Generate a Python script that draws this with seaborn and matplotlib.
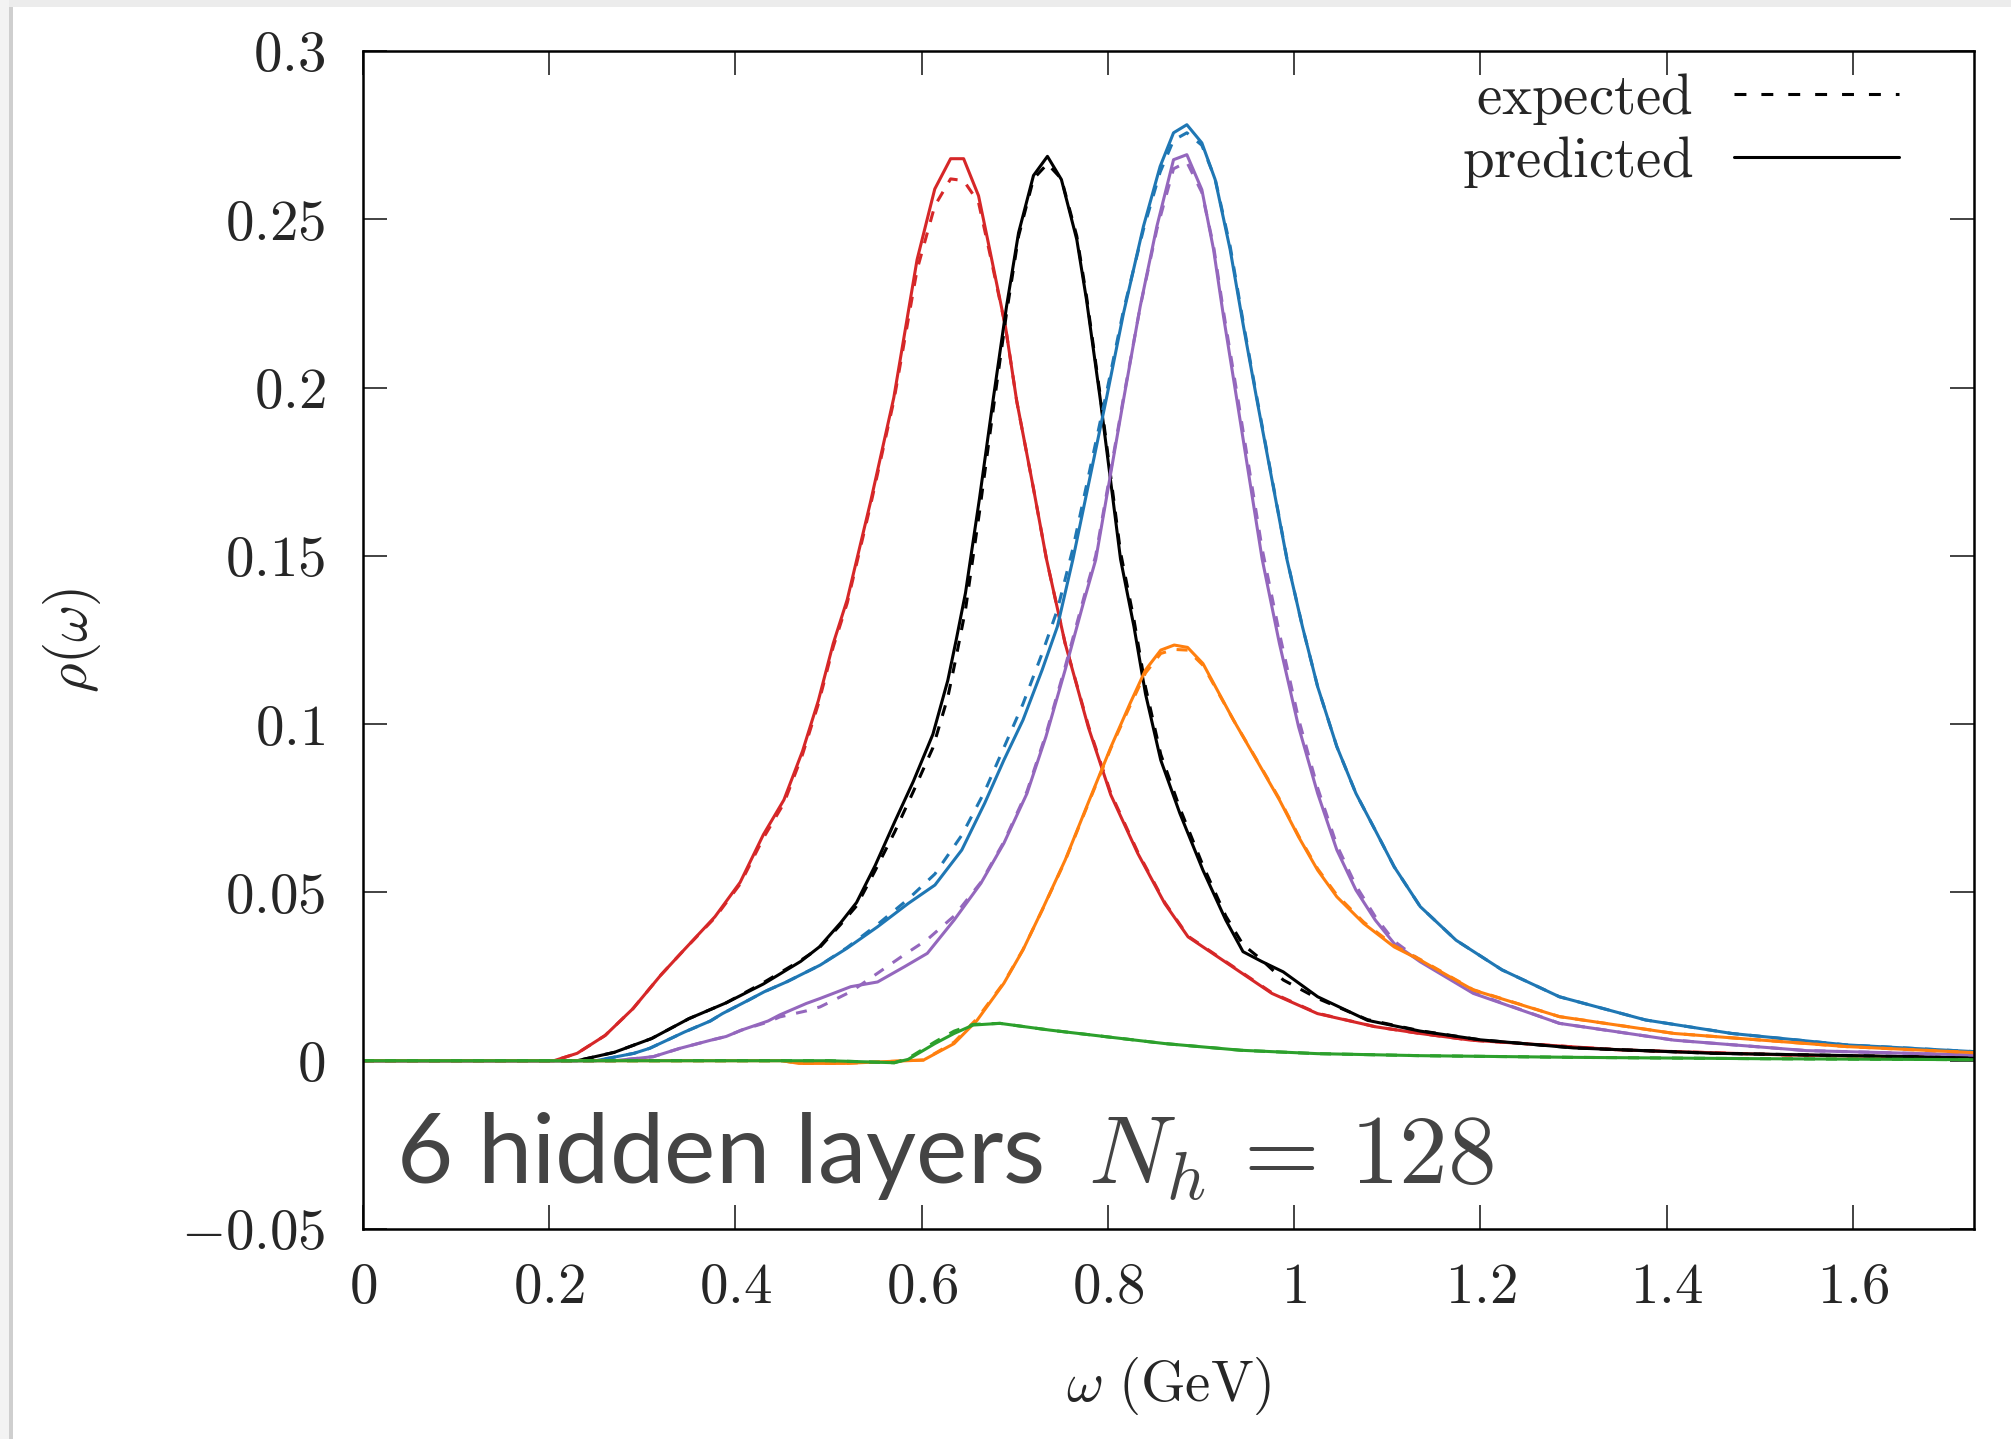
import matplotlib
matplotlib.use("Agg")
import matplotlib.pyplot as plt
from matplotlib.lines import Line2D
from matplotlib.patches import Rectangle
import pandas as pd
import seaborn as sns

# ---- spectral functions: omega grid (GeV), predicted and expected rho(omega) ----
omega_red = [0.0, 0.205, 0.23, 0.26, 0.29, 0.32, 0.345, 0.378, 0.405, 0.43, 0.452, 0.472, 0.489, 0.505,
             0.52, 0.545, 0.57, 0.595, 0.614, 0.631, 0.645, 0.661, 0.673, 0.69, 0.702, 0.72, 0.734, 0.754,
             0.779, 0.803, 0.832, 0.861, 0.886, 0.9225, 0.976, 1.025, 1.087, 1.135, 1.19, 1.35, 1.53, 1.73]
rho_red_pred = [0.0, 0.0, 0.0022, 0.0075, 0.0155, 0.0255, 0.033, 0.0428, 0.053, 0.0672, 0.0775, 0.092, 0.107,
                0.124, 0.137, 0.166, 0.197, 0.238, 0.259, 0.268, 0.268, 0.257, 0.241, 0.218, 0.196, 0.170, 0.149,
                0.124, 0.099, 0.079, 0.0616, 0.0467, 0.0368, 0.030, 0.020, 0.014, 0.0101, 0.0081, 0.0061, 0.0032,
                0.0017, 0.0008]
rho_red_exp = [0.0, 0.0, 0.0022, 0.0075, 0.0155, 0.0255, 0.033, 0.0425, 0.0525, 0.0662, 0.0765, 0.091, 0.106,
               0.123, 0.136, 0.165, 0.196, 0.235, 0.254, 0.262, 0.2615, 0.255, 0.240, 0.218, 0.196, 0.170, 0.149,
               0.124, 0.0995, 0.0795, 0.062, 0.047, 0.037, 0.0302, 0.0202, 0.0141, 0.0101, 0.0081, 0.0061, 0.0032,
               0.0017, 0.0008]

omega_black = [0.0, 0.23, 0.27, 0.31, 0.35, 0.39, 0.43, 0.47, 0.49, 0.513, 0.53, 0.55, 0.571, 0.591, 0.612,
               0.628, 0.637, 0.647, 0.662, 0.677, 0.691, 0.704, 0.72, 0.735, 0.75, 0.7665, 0.777, 0.792, 0.8135,
               0.8279, 0.8403, 0.8567, 0.8772, 0.902, 0.9265, 0.945, 0.965, 0.9882, 1.0252, 1.0787, 1.1353, 1.2,
               1.3, 1.45, 1.73]
rho_black_pred = [0.0, 0.0, 0.0025, 0.0066, 0.0125, 0.0172, 0.0228, 0.0295, 0.0338, 0.041, 0.047, 0.058, 0.071,
                  0.083, 0.097, 0.113, 0.125, 0.139, 0.167, 0.197, 0.224, 0.246, 0.263, 0.2687, 0.2618, 0.244,
                  0.226, 0.196, 0.149, 0.129, 0.109, 0.0893, 0.0735, 0.0566, 0.0418, 0.0324, 0.0295, 0.0264, 0.019,
                  0.012, 0.0088, 0.0062, 0.0038, 0.0022, 0.0009]
rho_black_exp = [0.0, 0.0, 0.0025, 0.0066, 0.0125, 0.0172, 0.0232, 0.0298, 0.0335, 0.0405, 0.046, 0.0565, 0.068,
                 0.080, 0.093, 0.108, 0.120, 0.134, 0.163, 0.194, 0.222, 0.245, 0.262, 0.2665, 0.262, 0.245, 0.227,
                 0.197, 0.151, 0.131, 0.111, 0.091, 0.075, 0.058, 0.043, 0.0345, 0.030, 0.024, 0.0185, 0.0122,
                 0.0089, 0.0062, 0.0038, 0.0022, 0.0009]

omega_blue = [0.0, 0.25, 0.291, 0.308, 0.332, 0.345, 0.373, 0.386, 0.414, 0.431, 0.4555, 0.4909, 0.5197, 0.5526,
              0.5854, 0.6142, 0.643, 0.6676, 0.6882, 0.7087, 0.7293, 0.7457, 0.7622, 0.7988, 0.8167, 0.8381, 0.856,
              0.8704, 0.8847, 0.9008, 0.9151, 0.9312, 0.9455, 0.9599, 0.9923, 1.0088, 1.0252, 1.0458, 1.0663,
              1.087, 1.1074, 1.1353, 1.1738, 1.2231, 1.2848, 1.3774, 1.4698, 1.593, 1.73]
rho_blue_pred = [0.0, 0.0, 0.0022, 0.0037, 0.0068, 0.0085, 0.0118, 0.014, 0.018, 0.0205, 0.0235, 0.0284, 0.0334,
                 0.0398, 0.0467, 0.0522, 0.0626, 0.0765, 0.0893, 0.1012, 0.1161, 0.129, 0.1488, 0.1974, 0.2221,
                 0.2479, 0.2657, 0.2757, 0.2781, 0.2727, 0.2618, 0.241, 0.2182, 0.1964, 0.1488, 0.129, 0.1111,
                 0.0933, 0.0794, 0.0685, 0.0576, 0.0458, 0.0358, 0.027, 0.019, 0.0121, 0.0081, 0.0047, 0.0027]
rho_blue_exp = [0.0, 0.0, 0.0022, 0.0037, 0.0068, 0.0085, 0.0118, 0.014, 0.018, 0.0205, 0.0235, 0.0284, 0.0336,
                0.0405, 0.048, 0.0555, 0.067, 0.080, 0.093, 0.106, 0.121, 0.134, 0.152, 0.199, 0.223, 0.247, 0.264,
                0.2735, 0.2757, 0.272, 0.262, 0.242, 0.219, 0.197, 0.149, 0.129, 0.1111, 0.0933, 0.0794, 0.0685,
                0.0576, 0.0458, 0.0358, 0.027, 0.019, 0.0121, 0.0081, 0.0047, 0.0027]

omega_purple = [0.0, 0.27, 0.3117, 0.3406, 0.3735, 0.39, 0.4065, 0.435, 0.4475, 0.476, 0.4909, 0.5238, 0.5526,
                0.5813, 0.606, 0.6348, 0.6635, 0.6882, 0.713, 0.7334, 0.754, 0.7745, 0.7868, 0.8167, 0.8346,
                0.8525, 0.8704, 0.8847, 0.9008, 0.9134, 0.9241, 0.9384, 0.9656, 0.9841, 1.0047, 1.0252, 1.0458,
                1.0663, 1.087, 1.1074, 1.1353, 1.1923, 1.2848, 1.408, 1.55, 1.73]
rho_purple_pred = [0.0, 0.0, 0.0012, 0.0037, 0.0061, 0.0072, 0.0091, 0.0118, 0.0136, 0.017, 0.0185, 0.022, 0.0234,
                   0.0279, 0.0319, 0.0418, 0.0527, 0.0646, 0.0794, 0.0963, 0.1161, 0.1369, 0.1488, 0.1964, 0.2241,
                   0.2479, 0.2677, 0.2692, 0.2588, 0.241, 0.2211, 0.1964, 0.149, 0.124, 0.0992, 0.0794, 0.0626,
                   0.0507, 0.0418, 0.0348, 0.0294, 0.020, 0.0111, 0.0061, 0.003, 0.0017]
rho_purple_exp = [0.0, 0.0, 0.0012, 0.0037, 0.0061, 0.0072, 0.0091, 0.0115, 0.013, 0.0148, 0.016, 0.0205, 0.026,
                  0.0315, 0.036, 0.043, 0.053, 0.065, 0.080, 0.097, 0.117, 0.138, 0.150, 0.197, 0.224, 0.247, 0.265,
                  0.267, 0.258, 0.242, 0.2225, 0.1985, 0.152, 0.127, 0.1015, 0.081, 0.064, 0.052, 0.0428, 0.0355,
                  0.0298, 0.0202, 0.0111, 0.0061, 0.003, 0.0017]

omega_orange = [0.0, 0.45, 0.468, 0.517, 0.558, 0.6019, 0.6348, 0.6594, 0.6882, 0.7087, 0.7293, 0.754, 0.7786,
                0.8033, 0.8238, 0.8403, 0.8567, 0.8711, 0.8855, 0.902, 0.9348, 0.9636, 0.9841, 1.0047, 1.0252,
                1.0458, 1.0745, 1.1074, 1.1353, 1.1923, 1.2848, 1.408, 1.593, 1.73]
rho_orange_pred = [0.0, 0.0, -0.0008, -0.0008, -0.0003, 0.0002, 0.0051, 0.012, 0.023, 0.0329, 0.0448, 0.0596,
                   0.0765, 0.0933, 0.1062, 0.1161, 0.122, 0.1235, 0.1228, 0.118, 0.1012, 0.0874, 0.0775, 0.0665,
                   0.0566, 0.0487, 0.0408, 0.0338, 0.0299, 0.021, 0.0131, 0.0081, 0.0042, 0.0024]
rho_orange_exp = [0.0, 0.0, -0.0008, -0.0008, -0.0003, 0.0002, 0.0055, 0.0125, 0.0232, 0.033, 0.0447, 0.0594,
                  0.0762, 0.093, 0.1055, 0.1152, 0.121, 0.1222, 0.122, 0.1175, 0.1012, 0.0876, 0.0778, 0.0668,
                  0.057, 0.0492, 0.0412, 0.0342, 0.0301, 0.0211, 0.0131, 0.0081, 0.0042, 0.0024]

omega_green = [0.0, 0.5, 0.5705, 0.5854, 0.6142, 0.6348, 0.6553, 0.684, 0.7375, 0.799, 0.8608, 0.943, 1.025,
               1.135, 1.3, 1.5, 1.73]
rho_green_pred = [0.0, 0.0, -0.0006, 0.0004, 0.0051, 0.0081, 0.0106, 0.0111, 0.0091, 0.0071, 0.0051, 0.0031,
                  0.0021, 0.0015, 0.0010, 0.0006, 0.0003]
rho_green_exp = [0.0, 0.0, -0.0006, 0.0007, 0.0056, 0.0088, 0.0108, 0.0111, 0.0091, 0.0071, 0.0051, 0.0031,
                 0.0021, 0.0015, 0.0010, 0.0006, 0.0003]

x_ticks = [0, 0.2, 0.4, 0.6, 0.8, 1.0, 1.2, 1.4, 1.6]
x_tick_labels = ["0", "0.2", "0.4", "0.6", "0.8", "1", "1.2", "1.4", "1.6"]
y_ticks = [-0.05, 0, 0.05, 0.1, 0.15, 0.2, 0.25, 0.3]
y_tick_labels = ["-0.05", "0", "0.05", "0.1", "0.15", "0.2", "0.25", "0.3"]

series = [
    ("#d62728", omega_red, rho_red_pred, rho_red_exp),
    ("#000000", omega_black, rho_black_pred, rho_black_exp),
    ("#1f77b4", omega_blue, rho_blue_pred, rho_blue_exp),
    ("#9467bd", omega_purple, rho_purple_pred, rho_purple_exp),
    ("#ff7f0e", omega_orange, rho_orange_pred, rho_orange_exp),
    ("#2ca02c", omega_green, rho_green_pred, rho_green_exp),
]

# ---- style ----
sns.set_theme(style="ticks")
plt.rcParams["font.family"] = ["Lato", "DejaVu Sans"]
plt.rcParams["mathtext.fontset"] = "cm"
plt.rcParams["axes.unicode_minus"] = True

LW = 1.1
DASH = (0, (3.6, 3.6))
FS = 20.5

fig = plt.figure(figsize=(2011 / 200, 1439 / 200), dpi=200, facecolor="white")
ax = fig.add_axes([363 / 2011, 1 - 1229 / 1439, (1974 - 363) / 2011, (1229 - 51) / 1439])

for color, om, pred, exp in series:
    df = pd.DataFrame({"omega": om, "pred": pred, "exp": exp})
    sns.lineplot(data=df, x="omega", y="exp", ax=ax, color=color, linewidth=LW,
                 linestyle=DASH, sort=False, estimator=None)
    sns.lineplot(data=df, x="omega", y="pred", ax=ax, color=color, linewidth=LW,
                 sort=False, estimator=None)

ax.set_xlim(0, 1.73)
ax.set_ylim(-0.05, 0.3)
ax.set_xticks(x_ticks, ["$%s$" % t for t in x_tick_labels])
ax.set_yticks(y_ticks, ["$%s$" % t for t in y_tick_labels])
ax.tick_params(axis="both", which="major", direction="in", length=8.5, width=0.6,
               top=True, right=True, labelsize=FS, color="#222222")
ax.tick_params(axis="x", pad=12)
ax.tick_params(axis="y", pad=13.5)
for s in ax.spines.values():
    s.set_linewidth(0.9)
    s.set_color("black")

ax.set_xlabel(r"$\omega\ \mathrm{(GeV)}$", fontsize=FS, labelpad=15)
ax.set_ylabel(r"$\rho(\omega)$", fontsize=FS, labelpad=28)

handles = [Line2D([], [], color="black", lw=LW, linestyle=(0, (3.9, 4.9))),
           Line2D([], [], color="black", lw=LW)]
ax.legend(handles, [r"$\mathrm{expected}$", r"$\mathrm{predicted}$"], loc="upper right",
          bbox_to_anchor=(0.9535, 0.983), frameon=False, markerfirst=False, fontsize=FS,
          handlelength=2.9, handletextpad=0.72, labelspacing=0.12, borderpad=0, borderaxespad=0)

ax.text(0.0205, 0.039, r"6 hidden layers $\:N_h\,=\,128$", transform=ax.transAxes,
        fontsize=35, fontweight="normal", color="#444444", ha="left", va="baseline")

# window frame around the figure
fig.patches.append(Rectangle((0, 1 - 7 / 1439), 1, 7 / 1439, transform=fig.transFigure,
                             facecolor="#ececec", edgecolor="none", zorder=-1))
fig.patches.append(Rectangle((0, 0), 9 / 2011, 1, transform=fig.transFigure,
                             facecolor="#f3f3f3", edgecolor="none", zorder=-1))
fig.patches.append(Rectangle((9 / 2011, 0), 4 / 2011, 1 - 7 / 1439, transform=fig.transFigure,
                             facecolor="#cfcfcf", edgecolor="none", zorder=-1))

fig.savefig("out.png", dpi=200, facecolor="white")
